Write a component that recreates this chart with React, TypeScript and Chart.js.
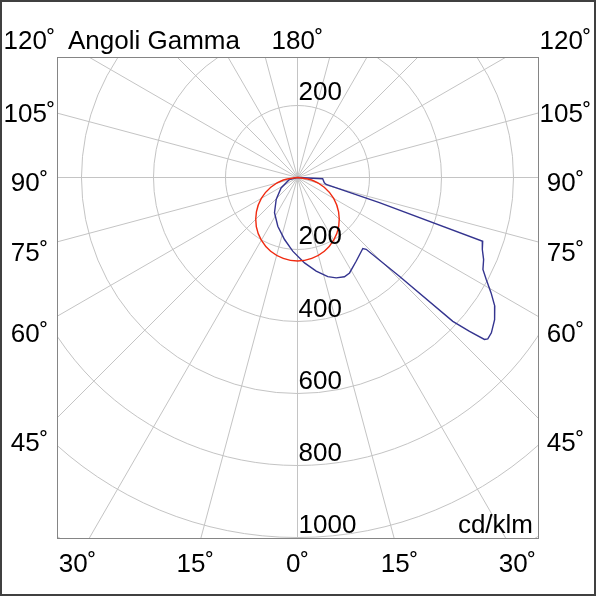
import React, { useEffect, useRef } from "react";
import { Chart, registerables } from "chart.js";

Chart.register(...registerables);

// Blue curve: gamma angle (deg from nadir, + = right) and intensity (cd/klm)
const blueGamma = [90, 87.1, 78.9, 76.3, 72.9, 71.0, 68.7, 66.2, 63.6, 61.6, 59.2, 56.9, 54.2, 51.3, 49.7, 49.1, 48.2, 47.2, 45.9, 43.7, 42.6, 35.0, 28.6, 25.3, 21.1, 17.0, 11.3, 4.7, -3.7, -11.8, -22.0, -33.1, -44.1, -57.7, -76.0, -90];
const blueIntensity = [0, 70, 76, 82, 238, 544, 551, 565, 575, 596, 626, 654, 675, 690, 693, 687, 641, 588, 394, 276, 268, 284, 302, 305, 299, 288, 265, 238, 205, 176, 146, 117, 85, 54, 23, 0];

// Red curve
const redGamma = [-90, -80, -70, -60, -50, -40, -30, -20, -10, 0, 10, 20, 30, 40, 50, 60, 70, 80, 90];
const redIntensity = [0, 40, 79, 116, 149, 178, 201, 218, 228, 232, 228, 218, 201, 178, 149, 116, 79, 40, 0];

// Grid / labels
const ringValues = [200, 400, 600, 800, 1000, 1200];
const ringLabelsBelow = [200, 400, 600, 800, 1000];
const ringLabelsAbove = [200];
const radialStep = 15;
const sideAngles = [120, 105, 90, 75, 60, 45];
const bottomAngles = [-30, -15, 0, 15, 30];
const titleText = "Angoli Gamma";
const topLabel = "180˚";
const unitLabel = "cd/klm";
const DEG = "˚";

const X_MIN = -668;
const X_MAX = 668;
const Y_MIN = -1001.4;
const Y_MAX = 334.7;

const FONT = '26px "Liberation Sans", Arial, sans-serif';

function toXY(g: number[], v: number[]) {
  return g.map((a, i) => {
    const r = (a * Math.PI) / 180;
    return { x: v[i] * Math.sin(r), y: -v[i] * Math.cos(r) };
  });
}

const polarPlugin = {
  id: "polarGrid",
  beforeDraw(chart: any) {
    const { ctx, chartArea, scales } = chart;
    const xs = scales.x;
    const ys = scales.y;
    const cx = xs.getPixelForValue(0);
    const cy = ys.getPixelForValue(0);
    const k = xs.getPixelForValue(100) - xs.getPixelForValue(0);
    ctx.save();
    ctx.fillStyle = "#ffffff";
    ctx.fillRect(0, 0, chart.width, chart.height);
    ctx.beginPath();
    ctx.rect(chartArea.left, chartArea.top, chartArea.right - chartArea.left, chartArea.bottom - chartArea.top);
    ctx.clip();
    ctx.strokeStyle = "#c4c4c4";
    ctx.lineWidth = 1;
    ringValues.forEach((v) => {
      ctx.beginPath();
      ctx.arc(cx, cy, (v / 100) * k, 0, Math.PI * 2);
      ctx.stroke();
    });
    for (let a = 0; a < 360; a += radialStep) {
      const r = (a * Math.PI) / 180;
      ctx.beginPath();
      ctx.moveTo(cx, cy);
      ctx.lineTo(cx + Math.sin(r) * 1000, cy + Math.cos(r) * 1000);
      ctx.stroke();
    }
    ctx.restore();
    ctx.save();
    ctx.strokeStyle = "#858585";
    ctx.lineWidth = 1;
    ctx.strokeRect(chartArea.left + 0.5, chartArea.top + 0.5, chartArea.right - chartArea.left, chartArea.bottom - chartArea.top);
    ctx.restore();
  },
  afterDatasetsDraw(chart: any) {
    const { ctx, chartArea, scales } = chart;
    const xs = scales.x;
    const ys = scales.y;
    const cx = xs.getPixelForValue(0);
    const cy = ys.getPixelForValue(0);
    const k = xs.getPixelForValue(100) - xs.getPixelForValue(0);
    ctx.save();
    ctx.font = FONT;
    ctx.fillStyle = "#000000";
    ctx.textBaseline = "alphabetic";
    // ring labels
    ctx.textAlign = "left";
    ringLabelsBelow.forEach((v) => {
      ctx.fillText(String(v), cx + 1, cy + (v / 100) * k - 5);
    });
    ringLabelsAbove.forEach((v) => {
      ctx.fillText(String(v), cx + 1, cy - (v / 100) * k - 5);
    });
    ctx.textAlign = "right";
    ctx.fillText(unitLabel, chartArea.right - 5, chartArea.bottom - 5);
    // side labels
    ctx.textAlign = "center";
    sideAngles.forEach((a) => {
      const r = (a * Math.PI) / 180;
      const y = Math.max(49, cy + (260 * Math.cos(r)) / Math.sin(r) + 14);
      ctx.fillText(a + DEG, cx - 268, y);
      ctx.fillText(a + DEG, cx + 268, y);
    });
    bottomAngles.forEach((a) => {
      const r = (a * Math.PI) / 180;
      ctx.fillText(Math.abs(a) + DEG, cx + 381 * Math.tan(r), 572);
    });
    ctx.fillText(topLabel, cx, 49);
    ctx.textAlign = "left";
    ctx.fillText(titleText, 68, 49);
    ctx.restore();
    // outer frame
    ctx.save();
    ctx.strokeStyle = "#404040";
    ctx.lineWidth = 2;
    ctx.strokeRect(1, 1, chart.width - 2, chart.height - 2);
    ctx.restore();
  },
};

export default function App() {
  const ref = useRef<HTMLCanvasElement | null>(null);
  useEffect(() => {
    document.body.style.margin = "0";
    if (!ref.current) return;
    const chart = new Chart(ref.current, {
      type: "scatter",
      data: {
        datasets: [
          {
            label: "red",
            data: toXY(redGamma, redIntensity),
            showLine: true,
            borderColor: "#f02a10",
            borderWidth: 1.4,
            pointRadius: 0,
            tension: 0.4,
          },
          {
            label: "blue",
            data: toXY(blueGamma, blueIntensity),
            showLine: true,
            borderColor: "#34348f",
            borderWidth: 1.4,
            pointRadius: 0,
            tension: 0,
          },
        ],
      },
      options: {
        animation: false,
        responsive: false,
        maintainAspectRatio: false,
        devicePixelRatio: 1,
        layout: { padding: { left: 57, right: 58, top: 57, bottom: 58 } },
        plugins: { legend: { display: false }, tooltip: { enabled: false }, title: { display: false } },
        scales: {
          x: { type: "linear", min: X_MIN, max: X_MAX, display: false },
          y: { type: "linear", min: Y_MIN, max: Y_MAX, display: false },
        },
      },
      plugins: [polarPlugin],
    });
    return () => chart.destroy();
  }, []);
  return (
    <div style={{ position: "absolute", left: 0, top: 0, width: 596, height: 596 }}>
      <canvas ref={ref} width={596} height={596} style={{ width: 596, height: 596 }} />
    </div>
  );
}
